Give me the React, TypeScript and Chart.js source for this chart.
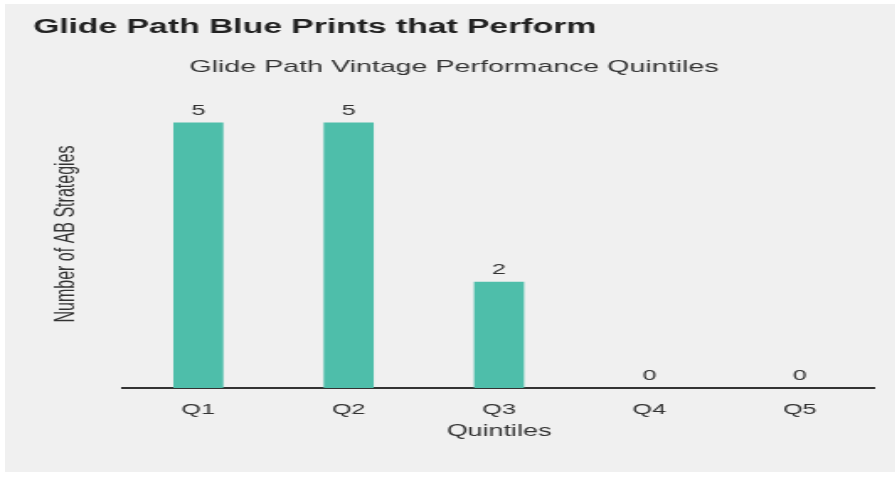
import React, { useEffect, useRef } from "react";
import { Chart, registerables } from "chart.js";

Chart.register(...registerables);

const categories = ["Q1", "Q2", "Q3", "Q4", "Q5"];
const strategyCounts = [5, 5, 2, 0, 0];
const chartTitle = "Glide Path Blue Prints that Perform";
const chartSubtitle = "Glide Path Vintage Performance Quintiles";
const xAxisTitle = "Quintiles";
const yAxisTitle = "Number of AB Strategies";

const FONT = "'Liberation Sans', Arial, sans-serif";
const STRETCH = 1.68;
const PANEL_W = 890;
const PANEL_H = 468;

const valueLabels = {
  id: "valueLabels",
  afterDatasetsDraw(chart: any) {
    const ctx = chart.ctx;
    const meta = chart.getDatasetMeta(0);
    ctx.save();
    ctx.font = `15px ${FONT}`;
    ctx.fillStyle = "#333333";
    ctx.textAlign = "center";
    ctx.textBaseline = "alphabetic";
    meta.data.forEach((bar: any, i: number) => {
      const v = chart.data.datasets[0].data[i];
      ctx.fillText(String(v), bar.x, bar.y - 8);
    });
    ctx.restore();
  },
};

const yTitlePlugin = {
  id: "yTitlePlugin",
  afterDraw(chart: any) {
    const ctx = chart.ctx;
    const yScale = chart.scales.y;
    const cx = yScale.left + 19.6;
    const cy = (chart.chartArea.top + chart.chartArea.bottom) / 2 - 8;
    ctx.save();
    ctx.translate(cx, cy);
    ctx.rotate(-Math.PI / 2);
    ctx.font = `16px ${FONT}`;
    ctx.fillStyle = "#333333";
    ctx.textAlign = "center";
    ctx.textBaseline = "middle";
    ctx.fillText(yAxisTitle, 0, 0);
    ctx.restore();
  },
};

export default function App() {
  const ref = useRef<HTMLCanvasElement>(null);

  useEffect(() => {
    Chart.defaults.font.family = FONT;
    const chart = new Chart(ref.current as HTMLCanvasElement, {
      type: "bar",
      data: {
        labels: categories,
        datasets: [
          {
            data: strategyCounts,
            backgroundColor: "#4EBEAA",
            borderWidth: 0,
            barPercentage: 0.333,
            categoryPercentage: 1,
          },
        ],
      },
      options: {
        animation: false,
        responsive: true,
        maintainAspectRatio: false,
        layout: { padding: { top: 0, left: 16.7, right: 13, bottom: 30.4 } },
        plugins: {
          legend: { display: false },
          tooltip: { enabled: false },
          title: {
            display: true,
            text: chartTitle,
            align: "start",
            color: "#222222",
            font: { size: 20, weight: "bold", family: FONT, lineHeight: 1.2 },
            padding: { top: 11, bottom: 10 },
          },
          subtitle: {
            display: true,
            text: chartSubtitle,
            align: "center",
            color: "#333333",
            font: { size: 17, family: FONT, lineHeight: 1.2 },
            padding: { top: 8.5, bottom: 18.1 },
          },
        },
        scales: {
          x: {
            grid: { display: false, drawTicks: false },
            border: { display: true, color: "#333333", width: 2 },
            ticks: { color: "#333333", font: { size: 15, family: FONT, lineHeight: 1.2 }, padding: 13 },
            title: {
              display: true,
              text: xAxisTitle,
              color: "#333333",
              font: { size: 16, family: FONT, lineHeight: 1.2 },
              padding: { top: 0, bottom: 0 },
            },
            afterFit: (scale: any) => {
              scale.height = 53.6;
            },
          },
          y: {
            min: 0,
            max: 5.5,
            grid: { display: false, drawTicks: false },
            border: { display: false },
            ticks: { display: false },
            title: { display: false },
            afterFit: (scale: any) => {
              scale.width = 53.5;
            },
          },
        },
      },
      plugins: [valueLabels, yTitlePlugin],
    });
    return () => chart.destroy();
  }, []);

  return (
    <div
      style={{
        position: "fixed",
        left: 0,
        top: 0,
        width: 895,
        height: 477,
        background: "#ffffff",
        overflow: "hidden",
      }}
    >
      <div
        style={{
          position: "absolute",
          left: 5,
          top: 4,
          width: PANEL_W,
          height: PANEL_H,
          background: "#f0f0f0",
        }}
      >
        <div
          style={{
            position: "relative",
            width: PANEL_W / STRETCH,
            height: PANEL_H,
            transform: `scaleX(${STRETCH})`,
            transformOrigin: "0 0",
          }}
        >
          <canvas ref={ref} />
        </div>
      </div>
    </div>
  );
}
